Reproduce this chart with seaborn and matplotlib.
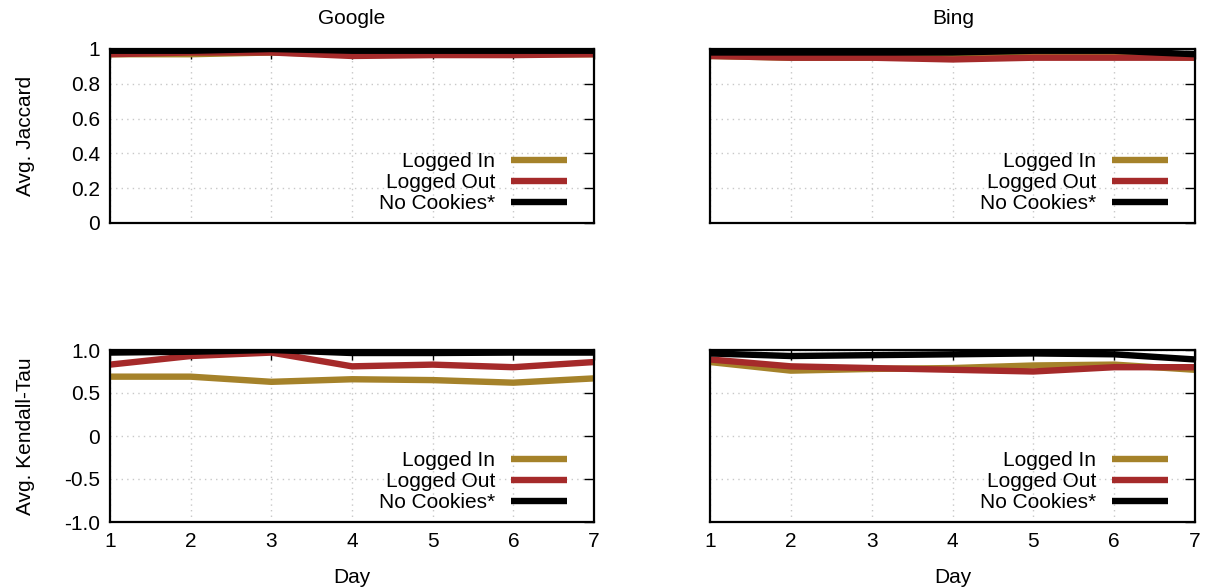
import numpy as np
import pandas as pd
import matplotlib
matplotlib.use("Agg")
import matplotlib.pyplot as plt
import seaborn as sns

days = [1, 2, 3, 4, 5, 6, 7]
series_names = ["Logged In", "Logged Out", "No Cookies*"]
colors = ["#A5822A", "#A52A2A", "#000000"]

google_jaccard_in = [0.97, 0.97, 0.98, 0.97, 0.97, 0.97, 0.97]
google_jaccard_out = [0.97, 0.98, 0.98, 0.96, 0.965, 0.965, 0.97]
google_jaccard_nc = [0.99, 0.99, 1.00, 0.99, 0.99, 0.99, 0.99]

bing_jaccard_in = [0.96, 0.95, 0.95, 0.95, 0.96, 0.96, 0.95]
bing_jaccard_out = [0.96, 0.95, 0.95, 0.94, 0.95, 0.95, 0.95]
bing_jaccard_nc = [0.98, 0.98, 0.98, 0.98, 0.99, 0.99, 0.97]

google_kendall_in = [0.69, 0.69, 0.63, 0.66, 0.65, 0.62, 0.67]
google_kendall_out = [0.83, 0.93, 0.97, 0.81, 0.83, 0.80, 0.86]
google_kendall_nc = [0.97, 0.98, 1.00, 0.965, 0.965, 0.97, 0.97]

bing_kendall_in = [0.86, 0.76, 0.78, 0.79, 0.82, 0.83, 0.77]
bing_kendall_out = [0.89, 0.81, 0.79, 0.77, 0.75, 0.80, 0.80]
bing_kendall_nc = [0.96, 0.93, 0.94, 0.95, 0.96, 0.95, 0.89]

jac_ticks = [0, 0.2, 0.4, 0.6, 0.8, 1.0]
jac_labels = ["0", "0.2", "0.4", "0.6", "0.8", "1"]
kt_ticks = [-1.0, -0.5, 0, 0.5, 1.0]
kt_labels = ["-1.0", "-0.5", "0", "0.5", "1.0"]


def make_df(a, b, c):
    rows = []
    for name, vals in zip(series_names, [a, b, c]):
        for d, v in zip(days, vals):
            rows.append({"Day": d, "Value": v, "Series": name})
    return pd.DataFrame(rows)


sns.set_style("white")
plt.rcParams["font.family"] = ["Liberation Sans", "DejaVu Sans"]
plt.rcParams["font.size"] = 15
plt.rcParams["text.color"] = "black"
plt.rcParams["axes.labelcolor"] = "black"
plt.rcParams["xtick.color"] = "black"
plt.rcParams["ytick.color"] = "black"

FS = 15
fig = plt.figure(figsize=(12.05, 5.88), dpi=100)
W, H = 1205, 588


def ax_at(l, t, r, b):
    return fig.add_axes([l / W, 1 - b / H, (r - l) / W, (b - t) / H])


ax_tl = ax_at(110, 49, 594, 223)
ax_tr = ax_at(710, 49, 1195, 223)
ax_bl = ax_at(110, 350, 594, 522)
ax_br = ax_at(710, 350, 1195, 522)

panels = [
    (ax_tl, make_df(google_jaccard_in, google_jaccard_out, google_jaccard_nc), "jac", True, False),
    (ax_tr, make_df(bing_jaccard_in, bing_jaccard_out, bing_jaccard_nc), "jac", False, False),
    (ax_bl, make_df(google_kendall_in, google_kendall_out, google_kendall_nc), "kt", True, True),
    (ax_br, make_df(bing_kendall_in, bing_kendall_out, bing_kendall_nc), "kt", False, True),
]

for ax, df, kind, ylab, xlab in panels:
    sns.lineplot(data=df, x="Day", y="Value", hue="Series", hue_order=series_names,
                 palette=colors, linewidth=4.6, ax=ax, legend=True)
    ax.set_xlim(1, 7)
    ax.set_xticks(days)
    if kind == "jac":
        ax.set_ylim(0, 1)
        ax.set_yticks(jac_ticks)
        ax.set_yticklabels(jac_labels if ylab else [])
        ax.set_ylabel("Avg. Jaccard" if ylab else "", fontsize=FS)
    else:
        ax.set_ylim(-1, 1)
        ax.set_yticks(kt_ticks)
        ax.set_yticklabels(kt_labels if ylab else [])
        ax.set_ylabel("Avg. Kendall-Tau" if ylab else "", fontsize=FS)
    ax.yaxis.set_label_coords(-0.155, 0.5)
    if xlab:
        ax.set_xlabel("Day", fontsize=FS)
        ax.xaxis.set_label_coords(0.5, -0.27)
    else:
        ax.set_xlabel("")
        ax.set_xticklabels([])
    ax.grid(True, color="#c8c8c8", linestyle=(0, (1, 3)), linewidth=1)
    ax.tick_params(direction="in", length=7, width=1, top=True, right=True,
                   labelsize=FS, pad=7, colors="black")
    for s in ax.spines.values():
        s.set_visible(True)
        s.set_color("black")
        s.set_linewidth(1.6)
    ax.set_axisbelow(True)
    leg = ax.legend(loc="lower right", bbox_to_anchor=(0.966, -0.005), frameon=False,
                    markerfirst=False, handlelength=2.7, handletextpad=0.75,
                    labelspacing=0.1, fontsize=FS, borderpad=0)
    for t in leg.get_texts():
        t.set_ha("right")
        t.set_color("black")
    for h in leg.get_lines():
        h.set_linewidth(4.6)
        h.set_solid_capstyle("butt")

fig.text(352 / W, 1 - 18 / H, "Google", ha="center", va="center", fontsize=FS)
fig.text(953 / W, 1 - 18 / H, "Bing", ha="center", va="center", fontsize=FS)

fig.savefig("out.png", dpi=100)
